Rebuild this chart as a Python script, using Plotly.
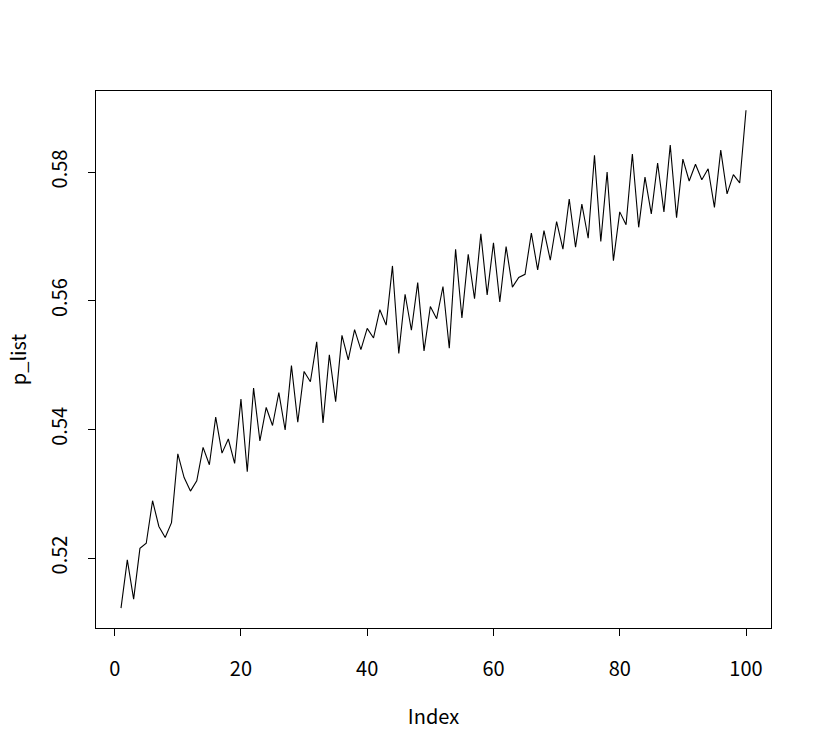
import plotly.graph_objects as go

index = list(range(1, 101))
p_list = [
    0.5122, 0.5197, 0.5136, 0.5215, 0.5223, 0.5289, 0.5249, 0.5232, 0.5255, 0.5362,
    0.5325, 0.5304, 0.5320, 0.5372, 0.5345, 0.5419, 0.5363, 0.5385, 0.5347, 0.5447,
    0.5334, 0.5464, 0.5382, 0.5434, 0.5406, 0.5457, 0.5399, 0.5499, 0.5411, 0.5490,
    0.5474, 0.5536, 0.5410, 0.5516, 0.5443, 0.5546, 0.5508, 0.5555, 0.5524, 0.5557,
    0.5542, 0.5586, 0.5562, 0.5654, 0.5518, 0.5610, 0.5554, 0.5628, 0.5522, 0.5591,
    0.5572, 0.5622, 0.5526, 0.5680, 0.5573, 0.5672, 0.5603, 0.5704, 0.5609, 0.5690,
    0.5598, 0.5684, 0.5621, 0.5636, 0.5641, 0.5705, 0.5648, 0.5709, 0.5663, 0.5723,
    0.5680, 0.5758, 0.5683, 0.5750, 0.5697, 0.5826, 0.5692, 0.5800, 0.5662, 0.5738,
    0.5718, 0.5828, 0.5714, 0.5792, 0.5735, 0.5814, 0.5738, 0.5842, 0.5729, 0.5820,
    0.5786, 0.5812, 0.5788, 0.5805, 0.5745, 0.5834, 0.5766, 0.5796, 0.5783, 0.5896,
]
x_ticks = [0, 20, 40, 60, 80, 100]
y_ticks = [0.52, 0.54, 0.56, 0.58]

FONT = "Noto Sans CJK JP"
FSIZE = 20

fig = go.Figure()
fig.add_trace(go.Scatter(
    x=index,
    y=p_list,
    mode="lines",
    line=dict(color="black", width=1.1),
    showlegend=False,
))

axis_common = dict(
    showline=True,
    linecolor="black",
    linewidth=1,
    mirror=True,
    showgrid=False,
    zeroline=False,
    automargin=False,
    ticks="outside",
    ticklen=7,
    tickwidth=1,
    tickcolor="black",
    tickfont=dict(family=FONT, size=FSIZE, color="black"),
)

fig.update_layout(
    width=820,
    height=746,
    margin=dict(l=96, r=49, t=91, b=118),
    plot_bgcolor="white",
    paper_bgcolor="white",
    xaxis=dict(
        axis_common,
        range=[-2.96, 103.96],
        tickvals=x_ticks,
        ticklabelstandoff=16,
        title=dict(text="Index", font=dict(family=FONT, size=FSIZE, color="black"), standoff=28),
    ),
    yaxis=dict(
        axis_common,
        range=[0.50912, 0.59259],
        tickvals=y_ticks,
        tickformat=".2f",
        tickangle=-90,
        ticklabelstandoff=13,
    ),
)

# y title as an annotation, kept just inside the left edge
fig.add_annotation(
    text="p_list",
    xref="paper", yref="paper",
    x=-0.116, y=0.5,
    xanchor="center", yanchor="middle",
    textangle=-90,
    showarrow=False,
    font=dict(family=FONT, size=FSIZE, color="black"),
)

# drop the page's default body margin so the figure sits at the window origin
fig.write_html(
    "out.html",
    config={"displayModeBar": False},
    post_script="document.body.style.margin = '0';",
)
